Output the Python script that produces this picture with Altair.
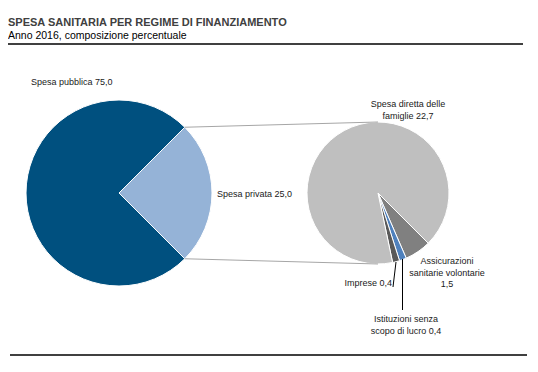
import math
import altair as alt
import pandas as pd

# ---- data ----
TITLE = "SPESA SANITARIA PER REGIME DI FINANZIAMENTO"
SUBTITLE = "Anno 2016, composizione percentuale"

LEFT_NAMES = ["Spesa privata", "Spesa pubblica"]
LEFT_VALUES = [25.0, 75.0]

RIGHT_NAMES = ["Assicurazioni sanitarie volontarie", "Istituzioni senza scopo di lucro",
               "Imprese", "Spesa diretta delle famiglie"]
RIGHT_VALUES = [1.5, 0.4, 0.4, 22.7]

# ---- styles ----
LEFT_COLORS = ["#95b3d7", "#00507f"]
RIGHT_COLORS = ["#808080", "#4f81bd", "#595959", "#bfbfbf"]
FONT = "Liberation Sans"
TXT = "#1a1a1a"


def fmt(v):
    return f"{v:.1f}".replace(".", ",")


left_df = pd.DataFrame({"name": LEFT_NAMES, "value": LEFT_VALUES, "idx": range(len(LEFT_NAMES))})
right_df = pd.DataFrame({"name": RIGHT_NAMES, "value": RIGHT_VALUES, "idx": range(len(RIGHT_NAMES))})

LC = (111, 185)   # left pie centre (view px)
LR = 93
RC = (370, 185)   # right pie centre
RR = 71

left_pie = alt.Chart(left_df).mark_arc(outerRadius=LR, stroke="white", strokeWidth=1).encode(
    theta=alt.Theta("value:Q", stack=True,
                    scale=alt.Scale(domain=[0, sum(LEFT_VALUES)],
                                    range=[math.pi / 4, math.pi / 4 + 2 * math.pi])),
    order=alt.Order("idx:Q"),
    color=alt.Color("name:N", scale=alt.Scale(domain=LEFT_NAMES, range=LEFT_COLORS), legend=None),
    x=alt.value(LC[0]), y=alt.value(LC[1]),
)

right_pie = alt.Chart(right_df).mark_arc(outerRadius=RR, stroke="white", strokeWidth=1).encode(
    theta=alt.Theta("value:Q", stack=True,
                    scale=alt.Scale(domain=[0, sum(RIGHT_VALUES)],
                                    range=[3 * math.pi / 4, 3 * math.pi / 4 + 2 * math.pi])),
    order=alt.Order("idx:Q"),
    color=alt.Color("name:N", scale=alt.Scale(domain=RIGHT_NAMES, range=RIGHT_COLORS), legend=None),
    x=alt.value(RC[0]), y=alt.value(RC[1]),
)


def rule(x1, y1, x2, y2, color, width):
    return alt.Chart(pd.DataFrame({"a": [0]})).mark_rule(color=color, strokeWidth=width).encode(
        x=alt.value(x1), y=alt.value(y1), x2=alt.value(x2), y2=alt.value(y2))


def text(t, x, y, align="left", size=9, bold=False, baseline="middle", lh=11.5, color=TXT):
    return alt.Chart(pd.DataFrame({"a": [0]})).mark_text(
        align=align, baseline=baseline, font=FONT, fontSize=size,
        fontWeight="bold" if bold else "normal", color=color, lineBreak="\n", lineHeight=lh,
    ).encode(x=alt.value(x), y=alt.value(y), text=alt.value(t))


lx = LC[0] + LR * math.sin(math.pi / 4)
connectors = [
    rule(lx, LC[1] - LR * math.cos(math.pi / 4), RC[0], RC[1] - RR, "#a6a6a6", 1),
    rule(lx, LC[1] + LR * math.cos(math.pi / 4), RC[0], RC[1] + RR, "#a6a6a6", 1),
]

leaders = [
    rule(388, 254, 385, 279, "#000000", 1),
    rule(394.5, 251, 394.5, 302, "#000000", 1),
]

frame = [
    rule(0, 36, 515, 36, "#000000", 1.5),
    rule(2, 347, 519, 347, "#000000", 1.5),
]

labels = [
    text(TITLE, 0, 18, size=11, bold=True, baseline="alphabetic", color="#404040"),
    text(SUBTITLE, 0, 30.5, size=10.5, baseline="alphabetic", color="#000000"),
    text(f"{LEFT_NAMES[1]} {fmt(LEFT_VALUES[1])}", 23, 74),
    text(f"{LEFT_NAMES[0]} {fmt(LEFT_VALUES[0])}", 209, 186),
    text(f"Spesa diretta delle\nfamiglie {fmt(RIGHT_VALUES[3])}", 400, 96, align="center", lh=12),
    text(f"Assicurazioni\nsanitarie volontarie\n{fmt(RIGHT_VALUES[0])}", 439, 253, align="center"),
    text(f"{RIGHT_NAMES[2]} {fmt(RIGHT_VALUES[2])}", 384, 275, align="right"),
    text(f"Istituzioni senza\nscopo di lucro {fmt(RIGHT_VALUES[1])}", 398, 311, align="center"),
]

chart = alt.layer(left_pie, right_pie, *connectors, *leaders, *frame, *labels).resolve_scale(
    theta="independent", color="independent"
).properties(
    width=522, height=356, autosize=alt.AutoSizeParams(type="none"), padding=0,
    background="white",
).configure_view(stroke=None)

chart.save("out.html", embed_options={"renderer": "svg", "actions": False})
